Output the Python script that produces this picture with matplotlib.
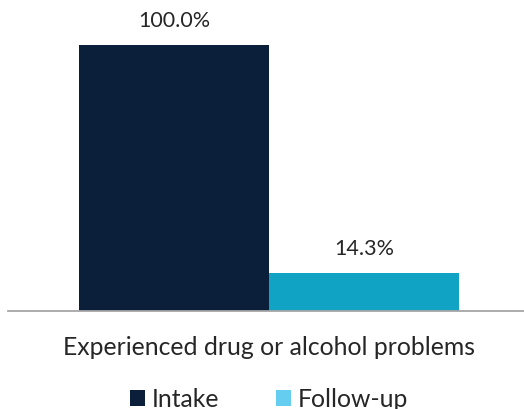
import matplotlib.pyplot as plt
from matplotlib.patches import Patch

categories = ["Experienced drug or alcohol problems"]
series = ["Intake", "Follow-up"]
intake = [100.0]
follow_up = [14.3]

bar_colors = ["#0B1F3A", "#11A3C4"]
legend_colors = ["#0B1F3A", "#64CDF0"]
text_color = "#262626"

plt.rcParams["font.family"] = ["Lato", "DejaVu Sans"]

fig = plt.figure(figsize=(5.24, 4.10), dpi=100)
ax = fig.add_axes([8 / 524, 98 / 410, 516 / 524, 266 / 410])

w = 0.368
vals = [intake, follow_up]
offsets = [-w / 2, w / 2]
for s, v, off, c in zip(series, vals, offsets, bar_colors):
    bars = ax.bar([i + off for i in range(len(categories))], v, width=w, color=c, label=s)
    for b, val in zip(bars, v):
        ax.text(b.get_x() + b.get_width() / 2, b.get_height() + 5.5, f"{val:.1f}%",
                ha="center", va="bottom", fontsize=15.5, color=text_color, clip_on=False)

ax.set_xlim(-261 / 516, 255 / 516)
ax.set_ylim(0, 100)
ax.set_yticks([])
ax.set_xticks(range(len(categories)))
ax.set_xticklabels(categories, fontsize=17.8, color=text_color)
ax.tick_params(axis="x", length=0, pad=17)
for sp in ["top", "right", "left"]:
    ax.spines[sp].set_visible(False)
ax.spines["bottom"].set_color("#A6A6A6")
ax.spines["bottom"].set_linewidth(1.3)

handles = [Patch(facecolor=c, edgecolor="none", label=s) for s, c in zip(series, legend_colors)]
fig.legend(handles=handles, loc="center", bbox_to_anchor=(269 / 524, 1 - 400 / 410), ncol=2,
           frameon=False, fontsize=17.8, handlelength=0.61, handleheight=0.61,
           handletextpad=0.28, columnspacing=2.3, labelcolor=text_color, borderaxespad=0)

fig.savefig("out.png", dpi=100)
